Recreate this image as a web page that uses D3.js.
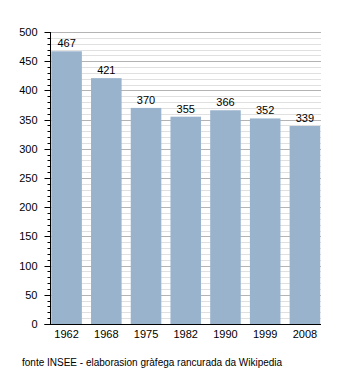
<!DOCTYPE html>
<html lang="oc">
<head>
  <meta charset="UTF-8" />
  <title>Populacion</title>
  <script src="https://d3js.org/d3.v7.min.js"></script>
  <style>
    body { margin: 0; background: #fff; }
    svg { display: block; font-family: "Liberation Sans", Arial, sans-serif; }
    .lbl { font-size: 11px; fill: #000; }
  </style>
</head>
<body>
  <svg id="chart" width="350" height="373"></svg>
  <script>
    const years = ["1962", "1968", "1975", "1982", "1990", "1999", "2008"];
    const population = [467, 421, 370, 355, 366, 352, 339];
    const yTicks = [0, 50, 100, 150, 200, 250, 300, 350, 400, 450, 500];
    const source = "fonte INSEE - elaborasion gràfega rancurada da Wikipedia";

    const svg = d3.select("#chart");
    const mLeft = 50.5, mRight = 321, mTop = 32, mBottom = 324;

    const x = d3.scaleBand().domain(years).range([mLeft, mRight])
      .paddingInner(0.23).paddingOuter(0.02);
    const y = d3.scaleLinear().domain([0, 500]).range([mBottom, mTop]);
    const py = d => Math.round(y(d)) + 0.5;

    // minor grid every 10, major every 50
    const minor = d3.range(10, 501, 10).filter(v => v % 50 !== 0);
    svg.append("g").selectAll("line").data(minor).join("line")
      .attr("x1", mLeft).attr("x2", mRight)
      .attr("y1", py).attr("y2", py)
      .attr("stroke", "#e0e0e0");
    svg.append("g").selectAll("line").data(yTicks.slice(1)).join("line")
      .attr("x1", mLeft).attr("x2", mRight)
      .attr("y1", py).attr("y2", py)
      .attr("stroke", "#b4b4b4");

    svg.append("g").selectAll("rect").data(population).join("rect")
      .attr("x", (d, i) => x(years[i]))
      .attr("width", x.bandwidth())
      .attr("y", d => y(d))
      .attr("height", d => mBottom - y(d))
      .attr("fill", "#9ab3cd");

    svg.append("g").selectAll("text").data(population).join("text")
      .attr("class", "lbl")
      .attr("x", (d, i) => x(years[i]) + x.bandwidth() / 2)
      .attr("y", d => y(d) - 4)
      .attr("text-anchor", "middle")
      .text(d => d);

    // y axis with minor ticks
    const yAxis = svg.append("g").attr("transform", `translate(${mLeft},0)`);
    yAxis.append("line").attr("x1", 0).attr("x2", 0).attr("y1", mTop).attr("y2", mBottom)
      .attr("stroke", "#000");
    yAxis.selectAll(".mt").data(minor).join("line")
      .attr("x1", -3).attr("x2", 0)
      .attr("y1", py).attr("y2", py)
      .attr("stroke", "#000");
    yAxis.selectAll(".Mt").data(yTicks).join("line")
      .attr("x1", -6).attr("x2", 0)
      .attr("y1", py).attr("y2", py)
      .attr("stroke", "#000");
    yAxis.selectAll("text").data(yTicks).join("text")
      .attr("class", "lbl")
      .attr("x", -13).attr("y", d => y(d) + 4)
      .attr("text-anchor", "end")
      .text(d => d);

    // x axis
    svg.append("line").attr("x1", mLeft - 6).attr("x2", mRight)
      .attr("y1", mBottom + 0.5).attr("y2", mBottom + 0.5).attr("stroke", "#000");
    svg.append("g").selectAll("text").data(years).join("text")
      .attr("class", "lbl")
      .attr("x", d => x(d) + x.bandwidth() / 2)
      .attr("y", mBottom + 14)
      .attr("text-anchor", "middle")
      .text(d => d);

    svg.append("text").attr("class", "lbl").attr("x", 22).attr("y", 366)
      .style("font-size", "10px").text(source);
  </script>
</body>
</html>
